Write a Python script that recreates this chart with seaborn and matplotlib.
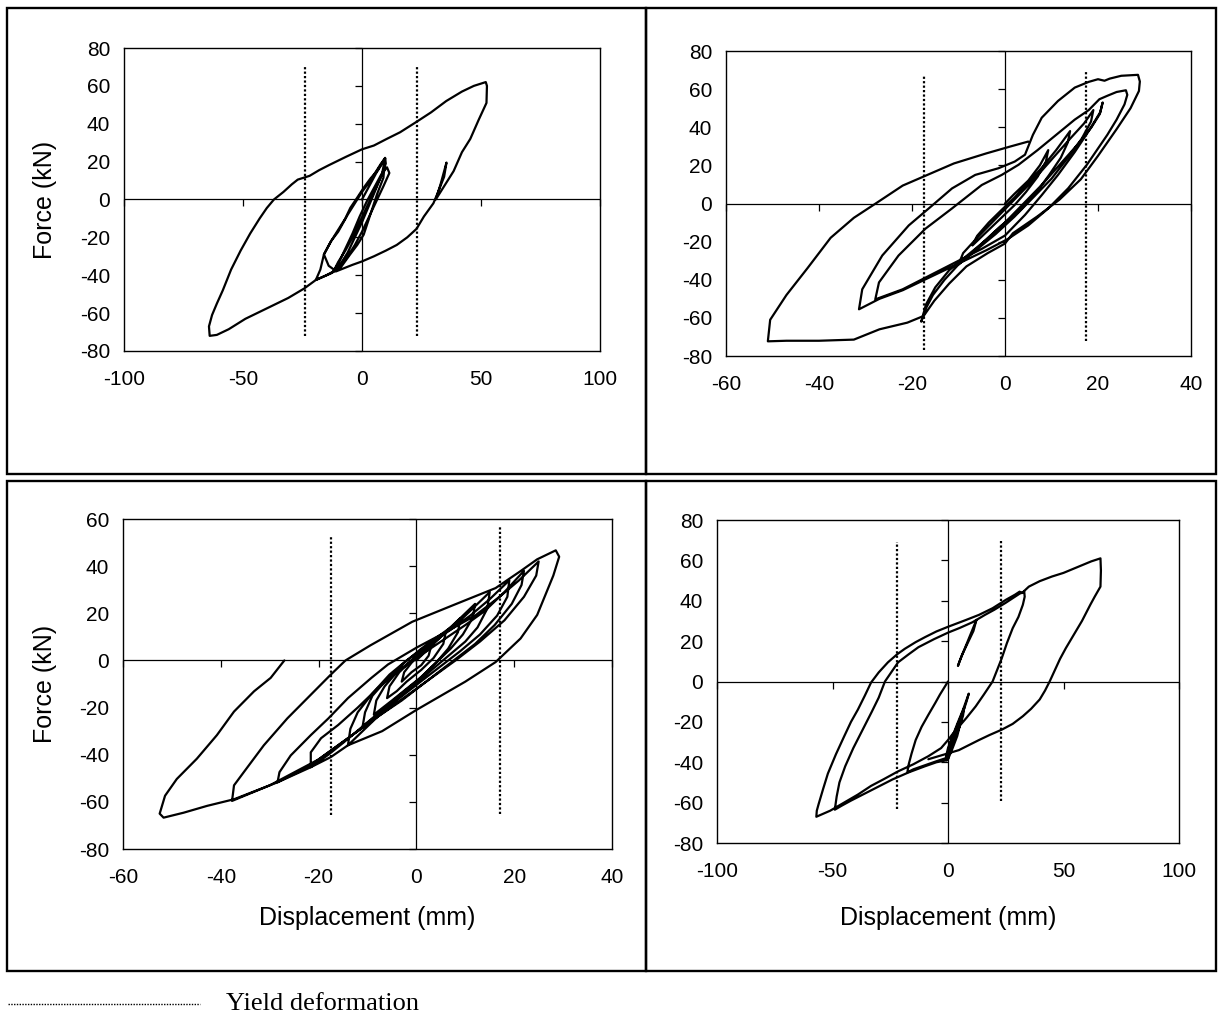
import numpy as np
import pandas as pd
import matplotlib
matplotlib.use("Agg")
import matplotlib.pyplot as plt
from matplotlib.lines import Line2D
from matplotlib.patches import Rectangle
import seaborn as sns

# ---------------- data ----------------
# Panel 1 (top-left)
p1_x = [0, 3, 6, 8, 9.7, 10, 8, 5, 2, -1, -4, -7, -10, -12, -10, -7, -4, -1, 2, 5, 8, 10.5, 11.5, 9, 6, 3, 0, -3, -6, -9,
        -11.8, -14, -16, -13, -10, -6, -3, 0, 3, 6, 8, 9.7, 9, 6.3, 3.5, 0.7, -2, -5, -9, -13, -19.4, -17.5, -16, -13,
        -10.4, -7, -4.9, -2, 0.7, 3.5, 6.25, 8, 9.7, 8.5, 6, 4, 2, 0, -3, -6, -9, -12, -15, -19.4,
        -24.3, -31, -40, -49, -56, -61, -64, -64.3, -63, -61, -58.5, -55, -51, -47, -43, -40, -37, -33, -29.5, -27,
        -22, -18, -13.8, -6.8, 0, 5, 10.4, 16, 22.9, 29, 35.4, 42, 47, 52, 52.5, 52.3, 49, 45.5, 42, 38.5, 35, 31,
        33, 35.5, 34.5, 32, 30, 26, 22.9, 19, 14.6, 10, 5, 0, -4, -7.6, -11]
p1_y = [0, 7, 14, 18, 22, 19, 12, 4, -4, -12, -20, -27, -33, -38, -34, -26, -18, -9, -1, 6, 13, 17, 14, 7, -1, -9, -17, -24, -30, -35,
        -37, -35, -29, -22, -17, -8, -2, 4, 9, 15, 19, 21.8, 11.5, 2.7, -8, -18.6, -24, -29, -36, -39, -42.5, -37, -29, -22,
        -16.8, -10, -4.4, 1, 6.2, 11, 15, 18.5, 21.8, 14, 6, 0, -6, -12, -20, -28, -34, -38, -40, -42.5,
        -47, -52, -57.5, -63, -68.5, -71.5, -72, -67, -61, -55, -48, -37, -27, -18, -10, -4.5, 0, 4, 8, 10.5,
        12.5, 15.5, 18.2, 22.5, 26.5, 28.5, 32, 35.5, 41, 46, 52, 57, 60, 62, 60, 51, 42, 32, 25, 15, 8, 0,
        8, 19.5, 12, 4, -2, -9, -15.5, -20, -24, -27, -30, -32.7, -34.5, -36.3, -38]

# Panel 2 (top-right)
p2_x = [0, 2, 5, 7.5, 9.3, 8.8, 7, 4.5, 2, -1, -4, -7, -6, -3.5, -1, 2, 5, 8, 11, 14, 13.5, 12, 9.5, 6.5, 3, -1, -5, -8, -10,
        -9, -6, -2, 2, 6, 10, 14, 17, 19, 18.5, 16.5, 13.5, 10, 6, 2, -2, -6, -10, -13, -15.5, -17, -18,
        -17, -15, -12, -8, -4, 0, 4, 8, 12, 16, 18.6, 20.4, 21,
        20.5, 18, 15, 11.4, 7.9, 4.3, 0, -5, -10.7, -16.4, -22, -27.9,
        -27.1, -22.9, -17.1, -11.4, -5, -0.7, 2.9, 7, 11, 15, 18, 20.3, 22, 24, 26,
        26.3, 25.7, 24, 22, 17.6, 13.6, 9.3, 5, 0.7, -4, -10, -16, -22, -27, -31.4,
        -30.7, -26.4, -20.7, -16.4, -11.4, -6.4, -1.4, 2.1, 4.3, 5.5, 6, 7.9, 11.4, 15, 18, 20, 21.4, 22.5, 25, 28.6,
        29, 28.8, 27, 24, 20, 16.3, 11.7, 7, 1.7, 0, -3.7, -8.3, -12, -15.2, -17.5, -21, -27, -32.5, -40, -47, -51,
        -50.5, -47, -42.5, -37.5, -32.5, -27.5, -22, -17, -11, -4, 1, 5]
p2_y = [0, 5, 12, 20, 28, 22, 14, 6, -1, -8, -15, -22, -17, -10, -4, 3, 11, 19, 28, 38, 32, 24, 15, 5, -4, -12, -21, -28, -32,
        -26, -18, -8, 2, 12, 23, 34, 42, 49, 43, 34, 24, 13, 3, -7, -16, -24, -32, -40, -48, -55, -62,
        -53, -44, -35, -27, -19, -10, 0, 10, 21, 32, 40, 47, 53,
        48, 38, 27, 15, 4.4, -6, -16.8, -23.8, -30.9, -38, -45, -50.3,
        -41.4, -27.3, -13.2, -2.6, 9.7, 15, 20.3, 28, 36, 44, 49, 54.7, 56.5, 58.5, 59.4,
        57, 52, 44, 36, 20.3, 8, -2.6, -11.5, -18.5, -24.5, -31.5, -38.5, -45.5, -50, -55.5,
        -45, -27.3, -11.5, -2.6, 7.9, 15, 18.5, 22, 25.6, 33, 36, 45, 53.8, 60.8, 63.8, 65.2, 64.4, 65.5, 67, 67.5,
        64, 59, 50, 39, 25, 12.7, 2, -6.7, -15.6, -21, -26, -33, -42, -51, -59, -62.5, -66, -71.4, -72, -72, -72.3,
        -61, -48, -34, -18, -7.5, 0.5, 9.4, 14.7, 21, 26.3, 29.8, 32.5]

# Panel 3 (bottom-left)
p3_x = [0, 1.5, 3, 2.5, 1, -1, -3, -2.5, -1, 1, 3.5, 6, 5.5, 3.5, 1, -2, -4, -6,
        -5.5, -3.5, -1, 2, 5, 7, 9, 8.5, 6.5, 4, 1, -2, -5, -8.7,
        -8.2, -6.5, -4, -1, 2.5, 6, 9, 12, 11.5, 9.5, 7, 4, 0.5, -3, -7, -11,
        -10.5, -9, -6, -2.5, 1, 5, 9, 12, 15, 14.5, 12.5, 10, 6, 2, -2, -6, -10, -14,
        -13.5, -12, -9, -5.5, -2, 2, 7, 11, 15, 19, 18.6, 16.5, 13, 9, 4, -1, -6, -11, -15, -18, -21.6,
        -21.6, -19.5, -16, -12, -8, -4, 0, 5, 10, 14, 18, 22, 21.5, 19.5, 16, 12, 7, 2, -3, -8, -14, -18, -22, -28.4,
        -28, -25.7, -21.6, -18, -14, -9.2, -5.8, 0, 6, 12, 17, 21, 25,
        24.5, 22, 18, 13, 8, 2, -4, -10, -15, -20, -25, -30, -37.7,
        -37.3, -35.3, -31.2, -26.4, -21.6, -17.5, -14.5, -9.4, -0.85, 7.7, 16.2, 21.3, 24.7, 28.5,
        29.2, 28, 24.7, 21.3, 16.2, 10, 5, 0, -7, -14, -17.5, -21.6, -28.4, -37.3, -42.8, -47.6, -51.7, -52.5,
        -51.4, -49, -44.9, -40.8, -37.3, -33.2, -29.8, -27]
p3_y = [0, 3, 6, 2, -2, -5, -9, -5, -1, 3, 7, 12, 7, 1, -4, -9, -13, -16,
        -11, -5, 0, 5, 10, 14, 18, 12, 5, -1, -7, -12, -17, -23,
        -17, -11, -5, 0, 6, 12, 18, 24, 18, 11, 5, -1, -8, -14, -21, -28,
        -22, -15, -8, -1, 5, 11, 17, 23, 29, 22, 14, 8, 1, -6, -13, -20, -28, -36,
        -29, -22, -14, -6, 0, 6, 13, 19, 26, 34, 27, 19, 11, 4, -4, -12, -20, -28, -35, -40, -45.3,
        -39, -33, -27.4, -20, -12, -5, 1, 8, 15, 21, 29, 38, 32, 24, 15, 7, -1, -9, -17, -24, -33, -39, -45, -51.7,
        -47.4, -40.3, -31.7, -24.6, -16, -7.4, -1.7, 5.4, 12, 19, 27, 34, 42,
        36, 27, 17, 8, 0, -9, -18, -27, -34.5, -42, -47.5, -53, -59.6,
        -53, -47.4, -36, -24.6, -14.6, -6, 0, 6.4, 16.4, 23.6, 30.7, 37.9, 42.9, 46.7,
        44, 36, 19.3, 9.3, -0.7, -9, -15, -21, -30, -36, -41, -45.3, -51.7, -58.9, -61.7, -64.6, -66.7, -65,
        -57.4, -50.3, -41.7, -31.7, -21.7, -13.1, -7.4, 0]

# Panel 4 (bottom-right)
p4_x = [0, -1.2, -3.5, -5.5, -8.5, -11.4, -14, -15.8, -17, -17.6, -15, -10, -5, -1,
        0, 2, 4, 6.5, 9, 8, 6, 3.5, 1, -0.5, 0.5, 2.5, 5, 7, 6.5, 4.5, 2, 0, 1.5, 3.5, 5.5, 4, 2, 0,
        1, 3, 5, 6, 4.5, 2.5, 0.5, -0.5, 1.5, 3.5, 5, 3, 1, -0.5,
        -5, -10, -17, -24, -30, -36, -42, -46, -49,
        -48.2, -47, -44.5, -41, -37, -33, -30, -27.3, -24, -21.6, -17, -12.8, -6, 0, 5, 10.5, 12.3,
        11, 8.5, 6, 4.3, 5, 7.5, 10, 12.3,
        16, 20, 25, 29, 31, 33,
        33.2, 32.4, 30.5, 28, 25.5, 23.2, 19.3, 15.5, 12, 8, 4.7, 2, 0, -3, -8.5, -15, -21.6, -28, -33.3, -39, -45, -51, -57,
        -56.8, -56, -54, -52, -48.5, -45, -42, -39, -36, -33.3, -30, -26, -22, -18.7, -14, -9.9, -5, 0, 7.6, 13.4,
        19.3, 25.1, 29, 31, 32, 35, 39.7, 45, 50, 57.2, 62, 66,
        66.2, 66, 63.5, 61.6, 58, 54.3, 51, 48.5, 46, 44, 42, 39.7, 36, 32.4, 28, 23.2, 18, 13.4, 9, 4.7, 0, -4, -8.5]
p4_y = [0, -2.2, -6.5, -10.6, -16.5, -22.4, -29, -35.8, -41, -45, -43.5, -41.5, -39.5, -38,
        -33, -27, -21, -14, -6, -10, -17, -25, -33, -38, -32, -26, -19, -13, -17, -24, -31, -37, -31, -25, -20, -27, -33, -38.5,
        -33, -27, -22, -18, -24, -30, -35, -39, -32, -26, -21, -28, -34, -39,
        -40, -42, -45, -48.5, -52, -55.5, -59, -61.5, -63.5,
        -57, -50, -42, -33, -24, -15, -8, 0, 5.5, 9.5, 13.5, 17, 21, 24.2, 26.5, 29.3, 30.5,
        25, 19, 13, 7.7, 10, 17, 24, 30.5,
        33, 35.5, 39, 42, 43.5, 44.5,
        42, 38, 32, 26.4, 19, 11.3, 0, -6.5, -12.3, -18, -22.4, -26, -29, -33, -37, -41, -44.5, -48.5, -51.7, -56, -60, -64, -67,
        -64, -60.7, -53, -45.6, -36, -27.3, -20, -13.9, -7, -0.5, 4.5, 9.5, 13.5, 16.2, 19.5, 22, 24.8, 27.1, 30.4, 33,
        36.3, 40.5, 43, 44.5, 43.8, 47, 49.7, 52, 53.8, 57.2, 59.5, 61,
        55, 47, 42, 38, 30, 22.9, 16.5, 11.2, 5, 0, -4.5, -8.9, -13.5, -17.2, -21, -23.9, -26.5, -29, -31.5, -34, -35.6, -37, -38.5]

# yield deformation lines: x position, y bottom, y top
p1_yield = [(-24, -72, 70), (23, -72, 70)]
p2_yield = [(-17.5, -77, 67), (17.5, -72, 70)]
p3_yield = [(-17.5, -65.5, 53), (17, -65, 56.5)]
p4_yield = [(-22, -63, 69), (23, -59, 70)]

# axis settings
p1_xticks = [-100, -50, 0, 50, 100]
p2_xticks = [-60, -40, -20, 0, 20, 40]
p3_xticks = [-60, -40, -20, 0, 20, 40]
p4_xticks = [-100, -50, 0, 50, 100]
p1_yticks = [-80, -60, -40, -20, 0, 20, 40, 60, 80]
p2_yticks = [-80, -60, -40, -20, 0, 20, 40, 60, 80]
p3_yticks = [-80, -60, -40, -20, 0, 20, 40, 60]
p4_yticks = [-80, -60, -40, -20, 0, 20, 40, 60, 80]

x_label = "Displacement (mm)"
y_label = "Force (kN)"
legend_label = "Yield deformation"

# ---------------- figure ----------------
sns.set_style("white")
plt.rcParams["font.family"] = ["Liberation Sans", "DejaVu Sans"]

W, H = 1219, 1021
fig = plt.figure(figsize=(W / 100, H / 100), dpi=100)
fig.patch.set_facecolor("white")


def px_axes(l, r, t, b):
    return fig.add_axes([l / W, 1 - b / H, (r - l) / W, (b - t) / H])


panels = [
    dict(box=(124, 600, 48, 351), x=p1_x, y=p1_y, yl=p1_yield, xt=p1_xticks, yt=p1_yticks, xlab=False, ylab=True),
    dict(box=(726, 1191, 51, 356), x=p2_x, y=p2_y, yl=p2_yield, xt=p2_xticks, yt=p2_yticks, xlab=False, ylab=False),
    dict(box=(123, 612, 519, 849), x=p3_x, y=p3_y, yl=p3_yield, xt=p3_xticks, yt=p3_yticks, xlab=True, ylab=True),
    dict(box=(717, 1179, 520, 843), x=p4_x, y=p4_y, yl=p4_yield, xt=p4_xticks, yt=p4_yticks, xlab=True, ylab=False),
]

for p in panels:
    l, r, t, b = p["box"]
    ax = px_axes(l, r, t, b)
    ax.set_facecolor("white")
    df = pd.DataFrame({"x": p["x"], "y": p["y"]})
    sns.lineplot(data=df, x="x", y="y", sort=False, estimator=None, color="black",
                 lw=1.6, ax=ax, legend=False)
    # zero axes
    ax.axhline(0, color="black", lw=0.9, zorder=1)
    ax.axvline(0, color="black", lw=0.9, zorder=1)
    # yield lines
    for xv, y0, y1 in p["yl"]:
        ax.plot([xv, xv], [y0, y1], color="black", lw=1.6, ls=(0, (1, 1)), zorder=2)
    # small tick marks on zero axes
    ax.plot(p["xt"], [0] * len(p["xt"]), ls="none", marker=3, ms=5, mew=0.9, color="black", clip_on=False)
    ax.plot([0] * len(p["yt"]), p["yt"], ls="none", marker=0, ms=5, mew=0.9, color="black", clip_on=False)

    ax.set_xlim(p["xt"][0], p["xt"][-1])
    ax.set_ylim(p["yt"][0], p["yt"][-1])
    ax.set_xticks(p["xt"])
    ax.set_yticks(p["yt"])
    ax.set_xticklabels([str(v) for v in p["xt"]])
    ax.set_yticklabels([str(v) for v in p["yt"]])
    ax.tick_params(axis="x", length=0, pad=14, labelsize=15, colors="black")
    ax.tick_params(axis="y", length=0, pad=10, labelsize=15, colors="black")
    for s in ax.spines.values():
        s.set_visible(True)
        s.set_color("black")
        s.set_linewidth(1.0)
    if p["ylab"]:
        ax.set_ylabel(y_label, fontsize=18, color="black")
        ax.yaxis.set_label_coords(-(l - 57) / (r - l), 0.5)
    else:
        ax.set_ylabel("")
    if p["xlab"]:
        ax.set_xlabel(x_label, fontsize=18, color="black")
        ax.xaxis.set_label_coords(0.5, -(906 - b) / (b - t))
    else:
        ax.set_xlabel("")

# panel frames
for (x0, y0, x1, y1) in [(7, 8, 646, 474), (646, 8, 1216, 474), (7, 481, 646, 971), (646, 481, 1216, 971)]:
    fig.add_artist(Rectangle((x0 / W, 1 - y1 / H), (x1 - x0) / W, (y1 - y0) / H,
                             transform=fig.transFigure, fill=False, ec="black", lw=1.7))

# legend for yield deformation
fig.add_artist(Line2D([8 / W, 200 / W], [1 - 1004 / H, 1 - 1004 / H], transform=fig.transFigure,
                      color="black", lw=1.0, ls=(0, (1, 1))))
fig.text(226 / W, 1 - 1004 / H, legend_label, fontsize=19, family=["Liberation Serif", "DejaVu Serif"],
         va="center", ha="left", color="black")

fig.savefig("out.png", dpi=100, facecolor="white")
